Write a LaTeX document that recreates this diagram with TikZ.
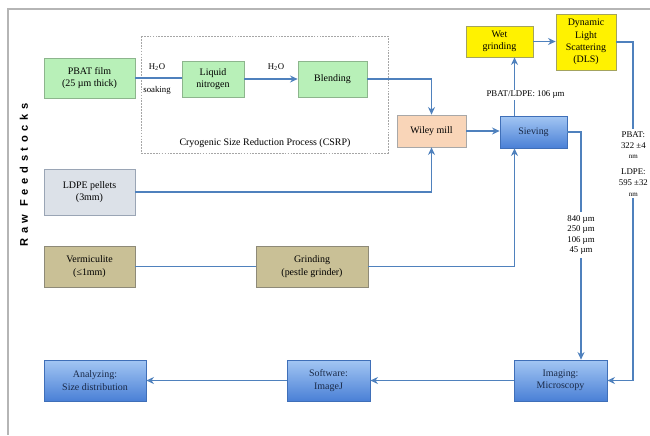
\documentclass[tikz,border=0pt]{standalone}
\usepackage{fontspec}
\setmainfont{Liberation Serif}
\newfontfamily\rawfont[LetterSpace=42]{Liberation Sans}
\usepackage{tikz}
\usetikzlibrary{arrows.meta}

\definecolor{arrblue}{HTML}{4F81BD}
\definecolor{framegray}{HTML}{B5B5B5}
\definecolor{boxgreen}{HTML}{B8F0B8}
\definecolor{edgegreen}{HTML}{8DB58D}
\definecolor{edgeyel}{HTML}{A3A35E}
\definecolor{wileyfill}{HTML}{F9D5B8}
\definecolor{edgegray}{HTML}{A8A8A8}
\definecolor{ldpefill}{HTML}{DCE1E8}
\definecolor{edgeldpe}{HTML}{9AA5B5}
\definecolor{tanfill}{HTML}{C9C096}
\definecolor{edgetan}{HTML}{8E8A78}
\definecolor{bluetop}{HTML}{A3C6F3}
\definecolor{bluebot}{HTML}{4A80D6}
\definecolor{edgeblue}{HTML}{3F6FB8}
\definecolor{navytext}{HTML}{1A2A48}

\begin{document}
\begin{tikzpicture}[
    x=0.3mm, y=-0.3mm, line width=0.65pt,
    % --- box styles ---
    box/.style={draw, minimum width=20mm, minimum height=10.8mm, align=center,
                font=\fontsize{8.5}{10.5}\selectfont, inner sep=1pt, line width=0.6pt},
    greenbox/.style={box, fill=boxgreen, draw=edgegreen},
    yelbox/.style={box, fill=yellow, draw=edgeyel},
    tanbox/.style={box, fill=tanfill, draw=edgetan},
    bluebox/.style={box, top color=bluetop, bottom color=bluebot, draw=edgeblue, text=navytext},
    % --- arrow styles ---
    arr/.style={-{Stealth[length=6.5pt,width=6pt]}, draw=arrblue, line width=1.5pt},
    pln/.style={draw=arrblue, line width=1.5pt},
    % --- label style ---
    lbl/.style={font=\fontsize{7.5}{9}\selectfont, inner sep=1pt, align=center},
]

%% =====================================================================
%%  COORDINATES: one unit = one pixel of the 650 x 435 sheet, y downwards
%% =====================================================================
\useasboundingbox (0,0) rectangle (650,435);

%% ---- FRAME AND SIDE TITLE ----
\draw[framegray, line width=1.5pt] (650,9) -- (8,9) -- (8,435);
\node[rotate=90, font=\rawfont\bfseries\fontsize{9.5}{11}\selectfont] (raw) at (24,175) {Raw Feedstocks};

%% ---- CRYOGENIC STAGE (dashed panel) ----
\draw[gray!70, line width=0.4pt, dash pattern=on 1.5pt off 1pt] (141,36) rectangle (388,153);
\node[font=\fontsize{8.5}{10.5}\selectfont] (csrp) at (265,143) {Cryogenic Size Reduction Process (CSRP)};

%% ---- TOP ROW ----
\node[greenbox, minimum width=27.3mm, minimum height=12mm] (pbat) at (89.5,78)
    {PBAT film\\(25 µm thick)};
\node[greenbox, minimum width=18.6mm] (liqn) at (213,79) {Liquid\\nitrogen};
\node[greenbox, minimum width=20.7mm] (blend) at (332.5,79) {Blending};
\node[lbl] (h2oa) at (157,67) {H\textsubscript{2}O};
\node[lbl] (soak) at (157,90) {soaking};
\node[lbl] (h2ob) at (276,67) {H\textsubscript{2}O};

%% ---- MILLING / SIEVING ----
\node[box, fill=wileyfill, draw=edgegray, minimum width=20.7mm, minimum height=9.6mm] (wiley)
    at (431.5,131) {Wiley mill};
\node[bluebox, minimum width=20.1mm, minimum height=9.6mm] (sieve) at (533.5,132) {Sieving};

%% ---- DLS BRANCH ----
\node[yelbox, minimum width=20.1mm, minimum height=9.3mm] (wetg) at (499.5,41.5) {Wet\\grinding};
\node[yelbox, minimum width=18mm, minimum height=16.8mm] (dls) at (586,42)
    {Dynamic\\Light\\Scattering\\(DLS)};

%% ---- OTHER FEEDSTOCKS ----
\node[box, fill=ldpefill, draw=edgeldpe, minimum width=27.3mm, minimum height=13.8mm] (ldpe)
    at (89.5,192) {LDPE pellets\\(3mm)};
\node[tanbox, minimum width=27.3mm, minimum height=12.3mm] (verm) at (89.5,266.5)
    {Vermiculite\\(≤1mm)};
\node[tanbox, minimum width=33.6mm, minimum height=12.3mm] (grind) at (312,266.5)
    {Grinding\\(pestle grinder)};

%% ---- BOTTOM ROW ----
\node[bluebox, minimum width=30.6mm, minimum height=12.3mm] (analyz) at (95,380.5)
    {Analyzing:\\Size distribution};
\node[bluebox, minimum width=24.9mm, minimum height=12.3mm] (softw) at (328.5,380.5)
    {Software:\\ImageJ};
\node[bluebox, minimum width=27.9mm, minimum height=12.3mm] (imag) at (560.5,380.5)
    {Imaging:\\Microscopy};

%% =====================================================================
%%  ARROWS
%% =====================================================================
\draw[pln] (pbat.east) -- (liqn.west |- pbat.east);
\draw[arr] (liqn.east) -- (blend.west);
\draw[arr] (blend.east) -| (wiley.north);
\draw[arr] (ldpe.east) -| (wiley.south);
\draw[arr] (wiley.east) -- (sieve.west |- wiley.east);
\draw[pln] (verm.east) -- (grind.west);
\draw[arr] (grind.east) -| ([xshift=-5.7mm]sieve.south);

%% --- Sieving -> wet grinding -> DLS ---
\draw[arr] ([xshift=-5.7mm]sieve.north)
    -- node[lbl, pos=0.36, xshift=3.3mm, fill=white]{PBAT/LDPE: 106 µm}
    ([xshift=-5.7mm]sieve.north |- wetg.south);
\draw[arr] (wetg.east) -- (dls.west |- wetg.east);

%% --- DLS result down to imaging ---
\draw[arr] (dls.east) -- ++(17,0)
    |- node[lbl, pos=0.18, fill=white, inner sep=2pt]
       {PBAT:\\322 ±4\\{\fontsize{6}{7}\selectfont nm}\\[5pt]LDPE:\\595 ±32\\{\fontsize{6}{7}\selectfont nm}}
    (imag.east);

%% --- Sieve fractions down to imaging ---
\draw[arr] (sieve.east)
    -| node[lbl, pos=0.726, fill=white, inner sep=3pt]{840 µm\\250 µm\\106 µm\\45 µm}
    ([xshift=6.15mm]imag.north);

%% --- Bottom row ---
\draw[arr] (imag.west) -- (softw.east);
\draw[arr] (softw.west) -- (analyz.east);

\end{tikzpicture}
\end{document}
